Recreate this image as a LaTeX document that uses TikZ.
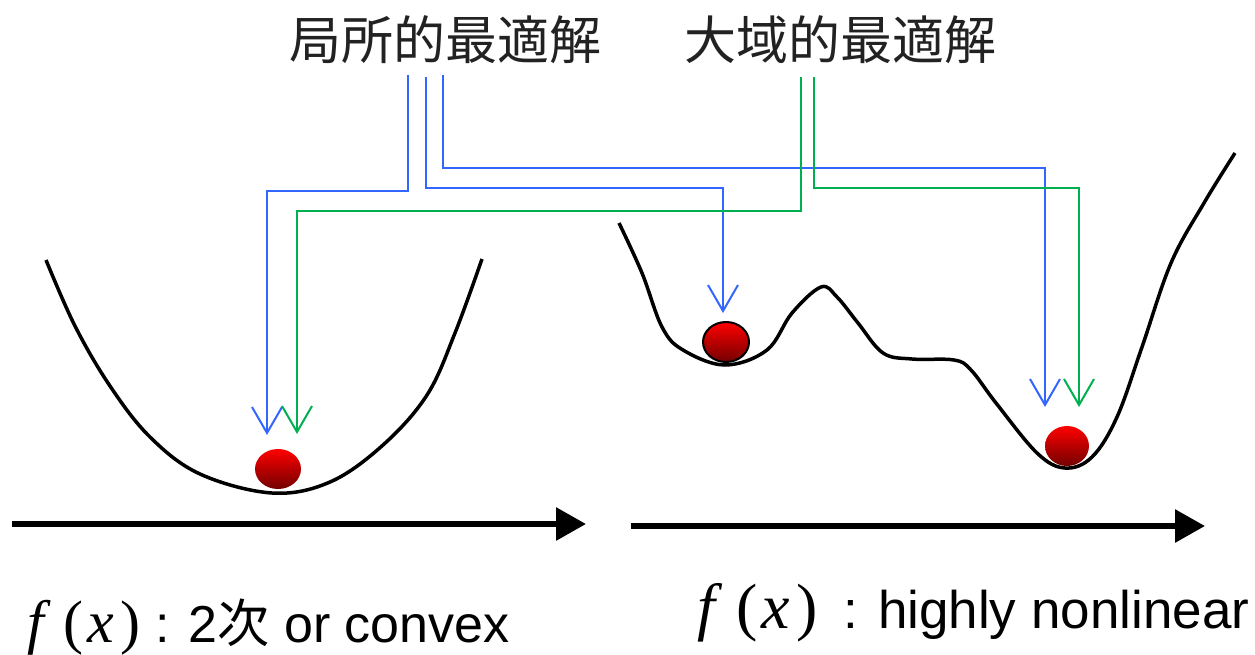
\documentclass[tikz,border=0pt]{standalone}
\usepackage{fontspec}
\setmainfont{Liberation Serif}
\setsansfont{Liberation Sans}
\newfontfamily\cjk{Noto Sans CJK JP}
\usetikzlibrary{arrows.meta,positioning,shapes.geometric}
\definecolor{loc}{RGB}{51,102,255}
\definecolor{glb}{RGB}{0,176,80}
\definecolor{ink}{RGB}{34,34,34}
\newcommand{\fofx}[1]{{\rmfamily\fontsize{#1}{#1}\selectfont
  \textit{f}\hspace{0.22em}(\hspace{0.06em}\textit{x}\hspace{0.1em})}}

\begin{document}
\begin{tikzpicture}[x=1pt,y=-1pt,
    ttl/.style={font=\cjk\fontsize{52}{60}\selectfont,text=ink,inner sep=0pt},
    lbl/.style={anchor=base west,inner sep=0pt,font=\sffamily\fontsize{53}{60}\selectfont},
    ball/.style={ellipse,minimum width=46pt,minimum height=40pt,inner sep=0pt,
                 top color=red,bottom color=red!45!black},
    lo/.style={loc,line width=2pt,-{Straight Barb[length=26pt,width=30pt]}},
    gl/.style={glb,line width=2pt,-{Straight Barb[length=26pt,width=30pt]}},
    ax/.style={line width=6pt,-{Triangle[length=30pt,width=32pt]}},
    fn/.style={black,line width=3.5pt,line join=round}]
    \useasboundingbox (0,0) rectangle (1255,654);

    \node[ttl] (local)  at (445,40) {局所的最適解};
    \node[ttl] (global) at (840,40) {大域的最適解};

    % curves
    \draw[fn] plot[smooth,tension=0.6] coordinates {(46,260) (75,326) (110,386)
      (150,437) (200,474) (272,493) (330,482) (383,445) (427,395) (455,333)
      (482,259)};
    \draw[fn] plot[smooth,tension=0.6] coordinates {(619,223) (642,273) (662,327)
      (683,350) (725,365) (767,350) (792,313) (821,287) (837,297) (858,323)
      (883,353) (912,359) (954,360) (971,370) (996,403) (1037,453) (1065,468)
      (1092,457) (1117,417) (1142,347) (1171,263) (1204,203) (1235,153)};

    \node[ball] (b1) at (278,469) {};
    \node[ball,draw=black,line width=2pt] (b2) at (726,342) {};
    \node[ball,minimum width=44pt] (b3) at (1067,446) {};

    \coordinate (l1) at (408,75);  \coordinate (t1) at (267,435);
    \coordinate (l2) at (426,77);  \coordinate (t2) at (723,313);
    \coordinate (l3) at (443,75);  \coordinate (t3) at (1045,407);
    \coordinate (g1) at (801,77);  \coordinate (t4) at (297,434);
    \coordinate (g2) at (814,77);  \coordinate (t5) at (1079,407);
    \draw[lo] (l1) -- ++(0,116) -| (t1);
    \draw[lo] (l2) -- ++(0,111) -| (t2);
    \draw[lo] (l3) -- ++(0,93) -| (t3);
    \draw[gl] (g1) -- ++(0,134) -| (t4);
    \draw[gl] (g2) -- ++(0,111) -| (t5);

    \coordinate (a1) at (12,524);  \coordinate (a2) at (586,524);
    \coordinate (a3) at (631,526); \coordinate (a4) at (1205,526);
    \draw[ax] (a1) -- (a2);
    \draw[ax] (a3) -- (a4);

    \node[lbl,font=\sffamily\fontsize{52}{60}\selectfont] (capl) at (27,642)
      {\fofx{60}\hspace{15pt}: 2{\cjk 次} or convex};
    \node[lbl] (capr) at (697,628) {\fofx{64}\hspace{26pt}: highly nonlinear};
\end{tikzpicture}
\end{document}
